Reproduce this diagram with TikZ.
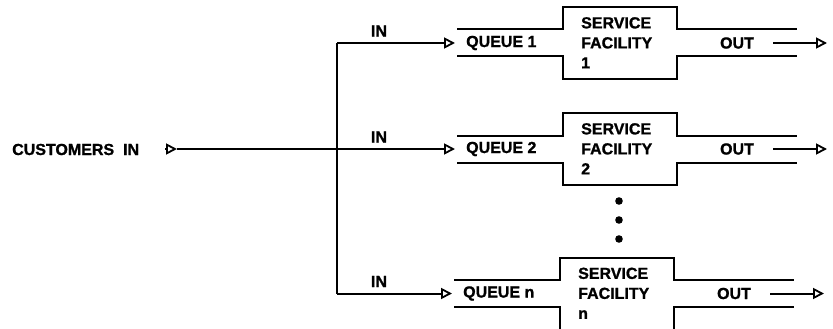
\documentclass[tikz,border=0pt]{standalone}
\usepackage{fontspec}
\setmainfont{Liberation Sans}[BoldFeatures={FakeBold=1.2}]
\usetikzlibrary{arrows.meta}
\tikzset{
  ln/.style={line width=2pt, line cap=butt, line join=miter},
  arr/.style={ln, -{Triangle[open, length=11pt, width=11pt, line width=1.8pt]}},
  lbl/.style={font=\fontsize{16}{20}\selectfont\bfseries, inner sep=0pt},
  dotc/.style={fill=black, draw=none}
}
\begin{document}
\begin{tikzpicture}[x=1pt,y=-1pt]
\useasboundingbox (0,0) rectangle (833,329);
% customers in
\node[lbl, anchor=west] (cust) at (12,149.5) {CUSTOMERS\hspace{9pt}IN};
\coordinate (ca) at (165,149);
\coordinate (cb) at (177,149);
\coordinate (jt) at (337,43);
\coordinate (jm) at (337,149);
\coordinate (jb) at (337,293.5);
\draw[arr] (ca) -- (cb);
\draw[ln] (cb) -- (jm);
\draw[ln] (jt) -- (jb);
% branches
\foreach \c/\k/\dx [count=\i] in {43/1/0, 149/2/0, 293.5/n/-3}{
  \coordinate (in\i) at (337,\c);
  \coordinate (tip\i) at (455+\dx,\c);
  \draw[arr] (in\i) -- (tip\i);
  \node[lbl] (inl\i) at (379,\c-12) {IN};
  \node[lbl, anchor=west] (q\i) at (466+\dx,\c) {QUEUE \k};
  \draw[ln] (457+\dx,\c-13.5) -- (563+\dx,\c-13.5) -- (563+\dx,\c-36) -- (677+\dx,\c-36) -- (677+\dx,\c-13.5) -- (797+\dx,\c-13.5);
  \draw[ln] (457+\dx,\c+13.5) -- (563+\dx,\c+13.5) -- (563+\dx,\c+36) -- (677+\dx,\c+36) -- (677+\dx,\c+13.5) -- (797+\dx,\c+13.5);
  \node[lbl, anchor=north west, align=left] (sf\i) at (581+\dx,\c-26) {SERVICE\\FACILITY\\\k};
  \node[lbl] (out\i) at (737+\dx,\c) {OUT};
  \coordinate (oa\i) at (773+\dx,\c);
  \coordinate (ob\i) at (827+\dx,\c);
  \draw[arr] (oa\i) -- (ob\i);
}
\fill[dotc] (619,201) circle (3.8);
\fill[dotc] (619,220) circle (3.8);
\fill[dotc] (619,239) circle (3.8);
\end{tikzpicture}
\end{document}
